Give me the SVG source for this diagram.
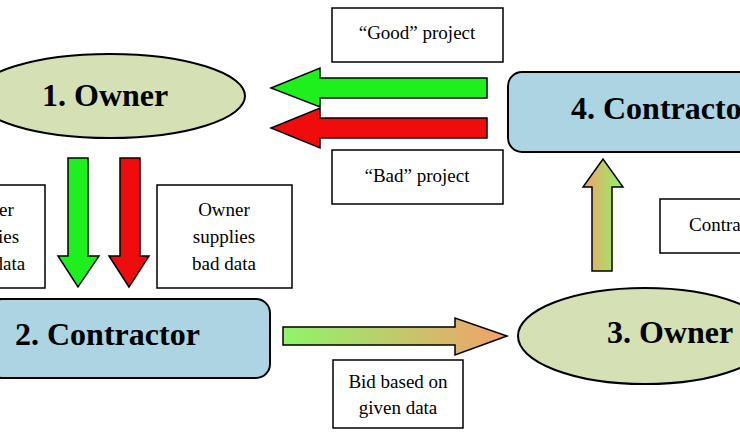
<svg xmlns="http://www.w3.org/2000/svg" width="740" height="445" viewBox="0 0 740 445">
<style>
.lbl{fill:#fff;stroke:#000;stroke-width:1.5}
.t{font-family:"Liberation Serif",serif;font-size:19px;fill:#000;text-anchor:middle}
.n{font-family:"Liberation Serif",serif;font-size:32px;font-weight:bold;fill:#000;text-anchor:start}
.ar{stroke:#000;stroke-width:1.5}
</style>
<defs>
<linearGradient id="gh" x1="0" y1="0" x2="1" y2="0"><stop offset="0" stop-color="#8ef56a"/><stop offset="1" stop-color="#f3a06a"/></linearGradient>
<linearGradient id="gv" x1="0" y1="0" x2="1" y2="0"><stop offset="0" stop-color="#f3a06a"/><stop offset="1" stop-color="#8ef56a"/></linearGradient>
</defs>
<rect width="740" height="445" fill="#fff"/>
<g id="owner1"><ellipse cx="110" cy="96" rx="135" ry="42" fill="#d5e0b5" stroke="#000" stroke-width="2"/><text class="n" x="42" y="106">1. Owner</text></g>
<g id="contractor4"><rect x="508" y="72" width="260" height="80" rx="14" fill="#acd4e2" stroke="#000" stroke-width="2"/><text class="n" x="571" y="119">4. Contractor</text></g>
<g id="contractor2"><rect x="-12" y="299" width="282" height="79" rx="14" fill="#acd4e2" stroke="#000" stroke-width="2"/><text class="n" x="15" y="345">2. Contractor</text></g>
<g id="owner3"><ellipse cx="645" cy="336" rx="127" ry="48" fill="#d5e0b5" stroke="#000" stroke-width="2"/><text class="n" x="607" y="343">3. Owner</text></g>
<g id="labels">
<rect class="lbl" x="332" y="8" width="171" height="54"/><text class="t" x="417" y="39">“Good” project</text>
<rect class="lbl" x="332" y="150" width="171" height="54"/><text class="t" x="417" y="182">“Bad” project</text>
<rect class="lbl" x="-5" y="185" width="50" height="103"/><text class="t" x="-12" y="216"><tspan x="-12">Owner</tspan><tspan x="-12" dy="27">supplies</tspan><tspan x="-12" dy="27">good data</tspan></text>
<rect class="lbl" x="157" y="185" width="135" height="103"/><text class="t" x="224" y="216"><tspan x="224">Owner</tspan><tspan x="224" dy="27">supplies</tspan><tspan x="224" dy="27">bad data</tspan></text>
<rect class="lbl" x="333" y="360" width="130" height="68"/><text class="t" x="398" y="388"><tspan x="398">Bid based on</tspan><tspan x="398" dy="26">given data</tspan></text>
<rect class="lbl" x="660" y="199" width="100" height="54"/><text class="t" x="689" y="231" style="text-anchor:start">Contractor</text>
</g>
<g id="connectors">
<polygon class="ar" fill="#1ef01e" points="487,78 320,78 320,68 271,88 320,107 320,98 487,98"/>
<polygon class="ar" fill="#f00c0c" points="487,118 320,118 320,108 271,128 320,148 320,138 487,138"/>
<polygon class="ar" fill="#1ef01e" points="68,158 88,158 88,256 99,256 78,287 58,256 68,256"/>
<polygon class="ar" fill="#f00c0c" points="120,158 140,158 140,256 149,256 129,287 109,256 120,256"/>
<polygon class="ar" fill="url(#gh)" points="283,327 455,327 455,318 507,336 455,355 455,345 283,345"/>
<polygon class="ar" fill="url(#gv)" points="592,271 612,271 612,187 623,187 603,159 583,187 592,187"/>
</g>
</svg>
